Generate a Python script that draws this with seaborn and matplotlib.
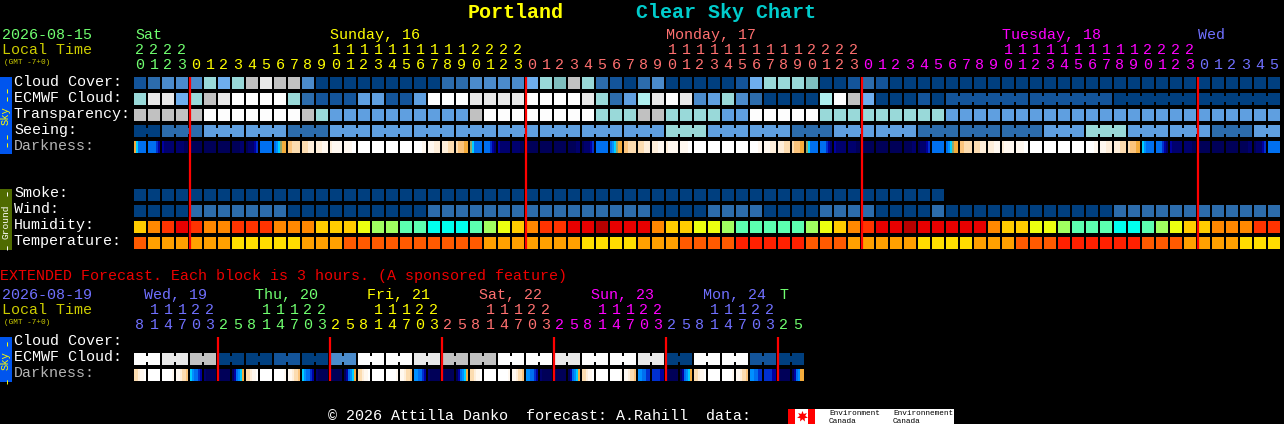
import numpy as np
import seaborn as sns
import matplotlib.pyplot as plt
from matplotlib.colors import ListedColormap
from matplotlib.patches import Rectangle

W, H = 1284, 424

# sky colours, one letter per level
cloud_colors = {'a': '#003f7f', 'b': '#13549a', 'c': '#2c6cac', 'd': '#4b8bcb', 'e': '#5f9fe0',
                'f': '#6eaeee', 'g': '#99d9d9', 'h': '#7fbfbf', 'i': '#c1c1c1', 'j': '#e9e9e9',
                'k': '#fdfdfd', 'l': '#aeeeee'}
humid_colors = {'R': '#b80000', 'r': '#e80000', 'o': '#ff3300', 'O': '#ff8800', 'y': '#ffcc00',
                'Y': '#ecff10', 'G': '#a0ff60', 'M': '#5cffb0', 'C': '#00ffee'}
temp_colors = {'f': '#ff5a00', 'g': '#ffa000', 'h': '#ffdd00', 'i': '#ff2000'}
dark_colors = {'0': '#000058', '1': '#00006e', '2': '#0000a0', '3': '#0030d0', '4': '#0070f0',
               '5': '#0090ff', '6': '#00d0ff', '7': '#90a870', '8': '#f4ac3c', '9': '#fbc47c',
               'A': '#fcdcb0', 'B': '#feeeda', 'C': '#fff8f0', 'D': '#ffffff'}

cloud_cover = ('bcdddgfgijiid' + 'a' * 9 + 'cc' + 'dddd' + 'fghig' + 'cba' + 'cd' + 'aaaaa'
               + 'bfgggh' + 'aa' + 'bcb' + 'a' * 28)
ecmwf_cloud = ('gjjfgij' + 'kkkk' + 'gc' + 'bbb' + 'ee' + 'bb' + 'e' + 'kkk' + 'jjjj' + 'kkkk' + 'j'
               + 'gcel' + 'jkj' + 'degdc' + 'aaaa' + 'lkif' + 'aaa' + 'b' + 'a' + 'b' * 12 + 'a' * 12)
transparency = ('i' * 5 + 'k' * 7 + 'ig' + 'e' * 10 + 'i' + 'k' * 8 + 'ggg' + 'ii' + 'gggg' + 'ee'
                + 'k' * 5 + 'g' * 9 + 'e' * 24)
seeing = ('aa' + 'ccc' + 'e' * 6 + 'ccc' + 'e' * 24 + 'ggg' + 'e' * 6 + 'ccc' + 'e' * 6 + 'c' * 9
          + 'eee' + 'ggg' + 'e' * 6 + 'ccc' + 'ee')
darkness = ['864444', '444432', '211111', '111100', '000000', '000000', '000000', '000011', '011123', '444444',
            '456788', '99AAAA', 'AAABBB', 'BBBCCC', 'BCCCCC', 'CCCCDD', 'DDDDDD', 'DDDDDD', 'DDDDDD', 'DDDDDD',
            'DDDDCC', 'CCCBBB', 'BBBAAA', 'A99988', '764444', '444321', '211111', '111100', '000000', '000000',
            '000000', '000011', '011123', '444444', '456788', '99AAAA', 'AAABBB', 'BBBCCC', 'BCCCCC', 'CCCCDD',
            'DDDDDD', 'DDDDDD', 'DDDDDD', 'DDDDDD', 'DDDDCC', 'CCCBBB', 'BBBAAA', 'A99988', '764444', '444321',
            '211111', '111100', '000000', '000000', '000000', '000011', '011123', '444444', '456788', '99AAAA',
            'AAABBB', 'BBBCCC', 'BCCCCC', 'CCCCDD', 'DDDDDD', 'DDDDDD', 'DDDDDD', 'DDDDDD', 'DDDDCC', 'CCCBBB',
            'BBBAAA', 'A99988', '654444', '444321', '211111', '111100', '000000', '000000', '000000', '000011',
            '011123', '444444']
smoke = 'a' * 58
wind = ('aaaa' + 'c' * 7 + 'a' * 10 + 'c' * 16 + 'aaaa' + 'cccc' + 'aaaa' + 'cccc' + 'aaaa' + 'c'
        + 'a' * 12 + 'c' * 12)
humidity = ('yOoroOOoooOOOyyyYGGMMCCCMGYy' + 'OoorrRrrr' + 'OyyYYGMMMMMGYyO' + 'orrRrrrrr'
            + 'OyyYYGMMM' + 'CCMGYyy' + 'OOOoo')
temperature = ('f' + 'g' * 6 + 'h' * 5 + 'ggg' + 'f' * 10 + 'g' * 7 + 'hhhh' + 'ggg' + 'ffff' + 'i' * 5
               + 'fff' + 'g' * 5 + 'hhhh' + 'ggg' + 'fff' + 'i' * 6 + 'fff' + 'gggg' + 'hhh')

ext_ecmwf = 'kkjjiiaaaabbaadd' + 'kkkkjjiiiikkkkjj' + 'kkkkjjaakkkkbbaa'
ext_darkness = ['AABCCD', 'DDDDDD', 'DDDDDC', 'CCBAA9', '654432', '100000', '000000', '024568',
                'AABCCD', 'DDDDDD', 'DDDDDC', 'CCBAA9', '654432', '100000', '000000', '024568',
                'AABCCD', 'DDDDDD', 'DDDDDC', 'CCBAA9', '554432', '100000', '000000', '024568',
                'AABCCD', 'DDDDDD', 'DDDDDC', 'CCBAA9', '554432', '100000', '000000', '024568',
                'AABCCD', 'DDDDDD', 'DDDDDC', 'CCBAA9', '554433', '333322', '000000', '024568',
                'AABCCD', 'DDDDDD', 'DDDDDC', 'CCBAA9', '554433', '333322', '000000', '024588']

hours = [20, 21, 22, 23] + list(range(24)) * 3 + [0, 1, 2, 3, 4, 5]
hour_days = [(4, 'green'), (24, 'yellow'), (24, 'salmon'), (24, 'magenta'), (6, 'blue')]
ext_hours = ([8, 11, 14, 17, 20, 23] + [2, 5, 8, 11, 14, 17, 20, 23] * 5 + [2, 5])
ext_days = [(6, 'blue'), (8, 'green'), (8, 'yellow'), (8, 'salmon'), (8, 'magenta'), (8, 'blue'), (2, 'green')]

day_labels = [('Sat', 135, 'green'), ('Sunday, 16', 330, 'yellow'), ('Monday, 17', 666, 'salmon'),
              ('Tuesday, 18', 1002, 'magenta'), ('Wed', 1198, 'blue')]
ext_labels = [('Wed, 19', 144, 'blue'), ('Thu, 20', 255, 'green'), ('Fri, 21', 367, 'yellow'),
              ('Sat, 22', 479, 'salmon'), ('Sun, 23', 591, 'magenta'), ('Mon, 24', 703, 'blue'), ('T', 779, 'green')]
sky_labels = ['Cloud Cover:', 'ECMWF Cloud:', 'Transparency:', 'Seeing:', 'Darkness:']
ground_labels = ['Smoke:', 'Wind:', 'Humidity:', 'Temperature:']

text_colors = {'green': '#70ff70', 'yellow': '#ffff00', 'salmon': '#ff7070', 'magenta': '#ff00ff', 'blue': '#7070ff'}

sns.set_theme(style='dark', rc={'figure.facecolor': 'black', 'savefig.facecolor': 'black'})
plt.rcParams['font.family'] = ['Liberation Mono', 'DejaVu Sans Mono']

fig = plt.figure(figsize=(W / 100, H / 100), dpi=100)


def heat(values, colors, x, y, h):
    names = list(colors)
    codes = [[names.index(v) if v else np.nan for v in values]]
    ax = fig.add_axes([x / W, 1 - (y + h) / H, len(values) * 2 / W, h / H])
    sns.heatmap(np.array(codes, dtype=float), cmap=ListedColormap([colors[n] for n in names]),
                vmin=-0.5, vmax=len(names) - 0.5, cbar=False, xticklabels=False, yticklabels=False, ax=ax)
    ax.set_axis_off()


def row(cells, colors, y, x=134, blocks=None):
    # every block is 14px: six 2px samples and a 2px gap
    cols = []
    for c in cells:
        cols += list(c * 6 if len(c) == 1 else c) + [None]
    heat(cols, colors, x, y, 12)
    if blocks:
        # joined cells get a narrow bar across the gap
        joined = [None] * (len(cells) * 7)
        for i in range(len(cells) - 1):
            if any(a <= i and i + 1 < b for a, b in blocks):
                joined[i * 7 + 6] = cells[i][0]
        heat(joined, colors, x, y + 3, 6)


row(cloud_cover, cloud_colors, 77)
row(ecmwf_cloud, cloud_colors, 93, blocks=[(58, 64), (64, 70), (70, 76), (76, 82)])
row(transparency, cloud_colors, 109)
row(seeing, cloud_colors, 125, blocks=[(0, 2)] + [(s, s + 3) for s in range(2, 82, 3)])
row(darkness, dark_colors, 141)
row(smoke, cloud_colors, 189)
row(wind, cloud_colors, 205)
row(humidity, humid_colors, 221)
row(temperature, temp_colors, 237)
row(ext_ecmwf, cloud_colors, 353, blocks=[(s, s + 2) for s in range(0, 48, 2)])
row(ext_darkness, dark_colors, 369)

# overlay in pixel coordinates for all the writing
ov = fig.add_axes([0, 0, 1, 1], zorder=5)
ov.set_xlim(0, W)
ov.set_ylim(H, 0)
ov.set_axis_off()


def txt(x, y, s, color='white', size=15, **kw):
    ov.text(x, y, s, color=color, fontsize=size * 0.72, va='baseline', **kw)


def hour_rows(values, days, y_tens, y_units):
    names = []
    for n, name in days:
        names += [name] * n
    for i, (v, name) in enumerate(zip(values, names)):
        cx = 140 + 14 * i
        txt(cx, y_units, str(v % 10), text_colors[name], ha='center')
        if v >= 10:
            txt(cx, y_tens, str(v // 10), text_colors[name], ha='center')


txt(468, 17.5, 'Portland', '#ffff00', size=20, fontweight='bold')
txt(636, 17.5, 'Clear Sky Chart', '#00cccc', size=20, fontweight='bold')

txt(2, 39, '2026-08-15', text_colors['green'])
txt(2, 54, 'Local Time', '#cccc00')
txt(4, 64, '(GMT -7+0)', '#cccc00', size=7.8)
for label, x, name in day_labels:
    txt(x, 39, label, text_colors[name])
hour_rows(hours, hour_days, 54, 69)

for i, label in enumerate(sky_labels):
    txt(14, 86 + 16 * i, label, '#b4b4b4' if label == 'Darkness:' else 'white')
for i, label in enumerate(ground_labels):
    txt(14, 197 + 16 * i, label)

txt(0, 280, 'EXTENDED Forecast. Each block is 3 hours. (A sponsored feature)', '#ee0000')
txt(2, 299, '2026-08-19', text_colors['blue'])
txt(2, 314, 'Local Time', '#cccc00')
txt(4, 324, '(GMT -7+0)', '#cccc00', size=7.8)
for label, x, name in ext_labels:
    txt(x, 299, label, text_colors[name])
hour_rows(ext_hours, ext_days, 314, 329)
for label, y in [('Cloud Cover:', 345), ('ECMWF Cloud:', 361), ('Darkness:', 377)]:
    txt(14, y, label, '#b4b4b4' if label == 'Darkness:' else 'white')

# midnight markers
ov.vlines([134 + 14 * i for i, v in enumerate(hours) if v == 0], 77, 249, colors='#ff0000', lw=1.6)
ov.vlines([134 + 14 * i for i, v in enumerate(ext_hours) if v == 2], 337, 381, colors='#ff0000', lw=1.6)

# side tabs
for y0, y1, col in [(77, 154, '#0055ee'), (189, 250, '#4f6b00'), (337, 382, '#0055ee')]:
    ov.add_patch(Rectangle((0, y0), 12, y1 - y0, color=col, lw=0))


def side(y, s, color, size):
    ov.text(6, y, s, color=color, fontsize=size * 0.72, rotation=90, ha='center', va='center')


side(92, '--', '#ffff00', 15)
side(115.5, 'Sky', '#ffff00', 10.5)
side(138, '--', '#ffff00', 15)
side(192, '-', 'white', 15)
side(222, 'Ground', 'white', 9.5)
side(246, '-', 'white', 15)
side(342, '-', '#ffff00', 15)
side(361, 'Sky', '#ffff00', 10.5)
side(379, '-', '#ffff00', 15)

# footer and logo
txt(328, 420, '\u00a9 2026 Attilla Danko  forecast: A.Rahill  data:')
ov.add_patch(Rectangle((788, 409), 166, 15, color='white', lw=0))
ov.add_patch(Rectangle((788, 409), 7, 15, color='#ff0000', lw=0))
ov.add_patch(Rectangle((808, 409), 7, 15, color='#ff0000', lw=0))
ov.plot([801.5], [416], marker=(7, 1, 0), ms=8, color='#ff0000', mew=0)
txt(829, 415, 'Environment', 'black', size=7.8)
txt(829, 423, 'Canada', 'black', size=7.8)
txt(893, 415, 'Environnement', 'black', size=7.8)
txt(893, 423, 'Canada', 'black', size=7.8)

fig.savefig('out.png', dpi=100, facecolor='black')
